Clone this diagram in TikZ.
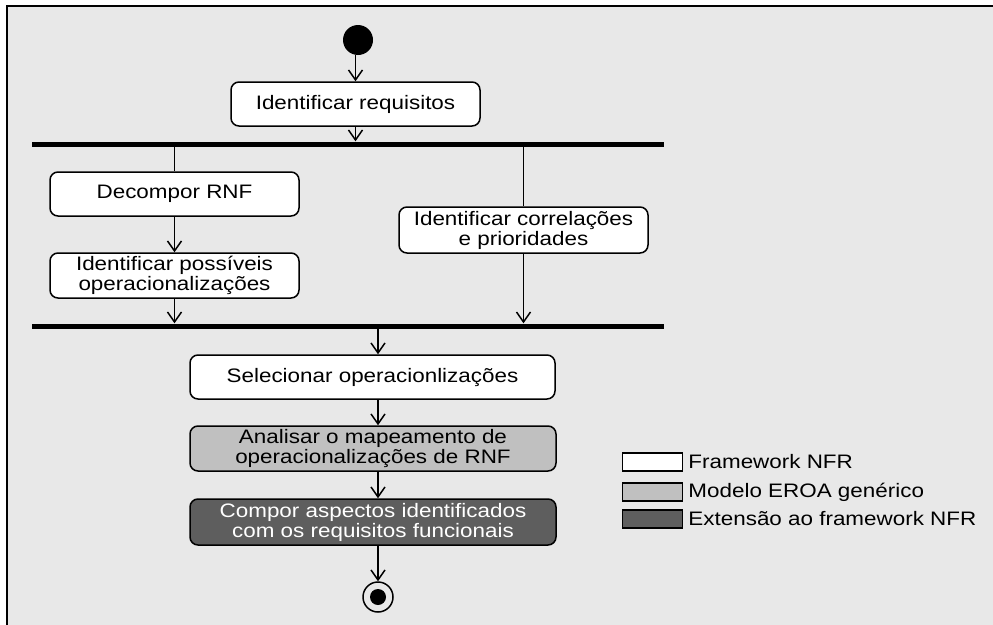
\documentclass[tikz,border=0pt]{standalone}
\usepackage{fontspec}
\setmainfont{Liberation Sans}[FakeStretch=1.15]
\usepackage{xcolor}
\usepackage{tikz}
\usetikzlibrary{arrows.meta, positioning}

\definecolor{bggray}{HTML}{E8E8E8}
\definecolor{midgray}{HTML}{C0C0C0}
\definecolor{darkgray}{HTML}{5E5E5E}

\tikzset{
	activity/.style = {draw, line width = 1.5pt, rounded corners = 8pt, fill = white,
		minimum width = 249pt, minimum height = 44pt, inner sep = 0pt, align = center,
		font = \fontsize{19.5}{20}\selectfont},
	bar/.style = {fill = black, minimum width = 632pt, minimum height = 5pt, inner sep = 0pt},
	arr/.style = {line width = 1.5pt, -{Straight Barb[length = 10pt, width = 14pt, line width = 1.5pt]}},
	flow/.style = {line width = 1.5pt},
	legbox/.style = {draw, line width = 1.5pt, minimum width = 60pt, minimum height = 18pt, inner sep = 0pt},
	legtext/.style = {inner sep = 0pt, font = \fontsize{19.5}{20}\selectfont}
}

\begin{document}
\begin{tikzpicture}[x = 1pt, y = -1pt]
			\useasboundingbox (0,0) rectangle (993,624);
			\draw[line width = 2pt, fill = bggray] (7,6) rectangle (1010,640);

			% start / end
			\node[circle, fill = black, minimum size = 30pt, inner sep = 0pt] (start) at (358,40) {};
			\node[circle, draw, line width = 1.5pt, minimum size = 30pt, inner sep = 0pt] (stop) at (378,597) {};
			\node[circle, fill = black, minimum size = 16pt, inner sep = 0pt] at (stop) {};

			% activities
			\node[activity] (req) at (355.5,104) {Identificar requisitos};
			\node[bar] (fork) at (348,144) {};
			\node[activity] (dec) at (174.5,194) {Decompor RNF};
			\node[activity, minimum height = 45pt] (pos) at (174.5,275.5) {Identificar possíveis\\operacionalizações};
			\node[activity, minimum height = 46pt] (cor) at (523.5,230) {Identificar correlações\\e prioridades};
			\node[bar] (join) at (348,326) {};
			\node[activity, minimum width = 365pt] (sel) at (372.5,377) {Selecionar operacionlizações};
			\node[activity, minimum width = 366pt, minimum height = 45pt, fill = midgray] (ana) at (373,448.5) {Analisar o mapeamento de\\operacionalizações de RNF};
			\node[activity, minimum width = 366pt, minimum height = 46pt, fill = darkgray, text = white] (com) at (373,522) {Compor aspectos identificados\\com os requisitos funcionais};

			% connectors
			\draw[arr] (start.south -| req.north) -- (req.north);
			\draw[arr] (req.south) -- (req.south |- fork.north);
			\draw[flow] (dec.north |- fork.south) -- (dec.north);
			\draw[arr] (dec.south) -- (pos.north);
			\draw[arr] (pos.south) -- (pos.south |- join.north);
			\draw[flow] (cor.north |- fork.south) -- (cor.north);
			\draw[arr] (cor.south) -- (cor.south |- join.north);
			\draw[arr] (join.south -| stop) -- (sel.north -| stop);
			\draw[arr] (sel.south -| stop) -- (ana.north -| stop);
			\draw[arr] (ana.south -| stop) -- (com.north -| stop);
			\draw[arr] (com.south -| stop) -- (stop.north);

			% legend
			\node[legbox, fill = white] (lg1) at (652.5,462) {};
			\node[legbox, fill = midgray] (lg2) at (652.5,492) {};
			\node[legbox, fill = darkgray] (lg3) at (652.5,519) {};
			\node[legtext, right = 5pt of lg1] {Framework NFR};
			\node[legtext, right = 5pt of lg2] {Modelo EROA genérico};
			\node[legtext, right = 5pt of lg3] {Extensão ao framework NFR};
		\end{tikzpicture}
\end{document}
